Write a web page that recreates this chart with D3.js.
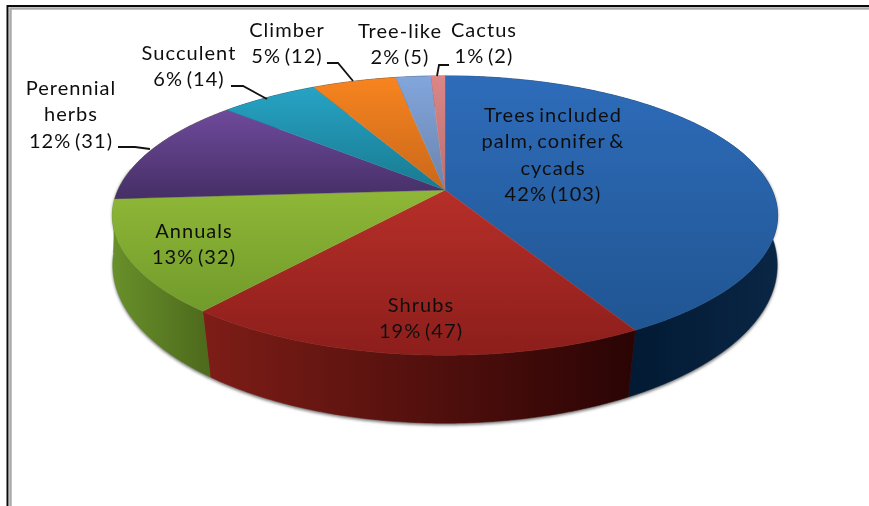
<!DOCTYPE html>
<html><head><meta charset="utf-8">
<script src="https://cdn.jsdelivr.net/npm/d3@7"></script>
<style>html,body{margin:0;padding:0;background:#fff;overflow:hidden}svg{display:block}
text{font-family:Lato,"Open Sans",sans-serif;fill:#111;text-anchor:middle}</style>
</head><body>
<svg id="c" width="869" height="506"></svg>
<script>
const categories=["Trees included palm, conifer & cycads","Shrubs","Annuals","Perennial herbs","Succulent","Climber","Tree-like","Cactus"];
const values=[103,47,32,31,14,12,5,2];
const percents=["42%","19%","13%","12%","6%","5%","2%","1%"];
const labelLines=[["Trees included","palm, conifer &","cycads"],["Shrubs"],["Annuals"],["Perennial","herbs"],["Succulent"],["Climber"],["Tree-like"],["Cactus"]];
const topColors=[["#2e6cba","#205592"],["#b72f29","#8c1e1b"],["#8fb737","#719b2b"],["#6f4a9c","#452f66"],["#27a3c4","#187a91"],["#f7841f","#c9681a"],["#82a6dc","#6a84ad"],["#dc8686","#b87070"]];
const wallColors=[["#0a2645","#021a33"],["#7e1d17","#2a0404"],["#68902a","#4f6c1d"],["#68902a","#4f6c1d"],["#0a2645","#021a33"],["#0a2645","#021a33"],["#0a2645","#021a33"],["#0a2645","#021a33"]];

// layout
const cx=445,cy=190,R=327,S=135,P=0.183;
const lowCy=243,lowR=329,lowS=155,lowP=0.14;
const labelCenters=[[553,122],[421,312],[194,238],[71,95],[189,60],[287,37],[400,38],[484,37]];
const lineH=26.3;
const leaders=[null,null,null,[[118,147],[135,147],[150,149]],[[231,86],[243,86],[267,99]],[[327,63],[338,63],[353,81]],null,[[437,76],[439,65],[449,65]]];

const svg=d3.select("#c");
const defs=svg.append("defs");
defs.append("filter").attr("id","blur").attr("x","-10%").attr("y","-10%").attr("width","120%").attr("height","120%")
  .append("feGaussianBlur").attr("stdDeviation",1.6);
defs.append("filter").attr("id","soft").append("feGaussianBlur").attr("stdDeviation",0.35);

// frame
svg.append("rect").attr("x",10.5).attr("y",8.5).attr("width",900).attr("height",600).attr("fill","none").attr("stroke","#a8a8a8").attr("stroke-width",2.4);
svg.append("rect").attr("x",7.5).attr("y",6).attr("width",900).attr("height",600).attr("fill","none").attr("stroke","#0a0a0a").attr("stroke-width",2);

const pie=d3.pie().sort(null).startAngle(0).endAngle(2*Math.PI);
const slices=pie(values);
const project=a=>{const u=Math.sin(a),v=-Math.cos(a),w=1-P*v;return [cx+R*u/w,cy+S*v/w];};
const projectLow=a=>{const u=Math.sin(a),v=-Math.cos(a),w=1-lowP*v;return [cx+lowR*u/w,lowCy+lowS*v/w];};
const sample=(a0,a1)=>{const n=Math.max(2,Math.ceil((a1-a0)/0.01));return d3.range(n+1).map(i=>a0+(a1-a0)*i/n);};
const line=d3.line();

// soft shadow below the wall
const arcA=sample(Math.PI*0.45,Math.PI*1.55);
svg.append("path").attr("d",line(arcA.map(projectLow).map(p=>[p[0],p[1]+2]).concat(arcA.slice().reverse().map(project))))
  .attr("fill","#777").attr("filter","url(#blur)");

// walls
const walls=svg.append("g");
slices.forEach((s,i)=>{
  const as=sample(s.startAngle,s.endAngle);
  const pts=as.map(project), low=as.map(projectLow);
  const xs=pts.map(p=>p[0]);
  const g=defs.append("linearGradient").attr("id","w"+i).attr("gradientUnits","userSpaceOnUse")
    .attr("x1",i===0?d3.max(xs):d3.min(xs)).attr("x2",i===0?d3.min(xs):d3.max(xs)).attr("y1",0).attr("y2",0);
  g.append("stop").attr("offset",0).attr("stop-color",wallColors[i][0]);
  g.append("stop").attr("offset",i===0?0.45:1).attr("stop-color",wallColors[i][1]);
  walls.append("path").attr("d",line(pts.concat(low.reverse()))+"Z")
    .attr("fill",`url(#w${i})`).attr("stroke",`url(#w${i})`).attr("stroke-width",0.5);
});

// top faces
const faces=svg.append("g");
slices.forEach((s,i)=>{
  const pts=sample(s.startAngle,s.endAngle).map(project);
  const ys=pts.map(p=>p[1]).concat(cy);
  const g=defs.append("linearGradient").attr("id","t"+i).attr("gradientUnits","userSpaceOnUse")
    .attr("x1",0).attr("x2",0).attr("y1",d3.min(ys)).attr("y2",d3.max(ys));
  g.append("stop").attr("offset",0).attr("stop-color",topColors[i][0]);
  g.append("stop").attr("offset",1).attr("stop-color",topColors[i][1]);
  faces.append("path").attr("d",line([[cx,cy]].concat(pts))+"Z")
    .attr("fill",`url(#t${i})`).attr("stroke",`url(#t${i})`).attr("stroke-width",0.4);
});

// leaders
leaders.forEach(l=>{ if(l) svg.append("path").attr("d",line(l)).attr("fill","none").attr("stroke","#111").attr("stroke-width",1.8); });

// labels
const labels=svg.append("g").attr("filter","url(#soft)");
categories.forEach((c,i)=>{
  const t=labels.append("text").attr("font-size",20).attr("letter-spacing",1.05).attr("word-spacing",-2.5);
  labelLines[i].concat(`${percents[i]} (${values[i]})`).forEach((ln,k)=>{
    t.append("tspan").attr("x",labelCenters[i][0]).attr("y",labelCenters[i][1]+k*lineH).text(ln);
  });
});
</script>
</body></html>
